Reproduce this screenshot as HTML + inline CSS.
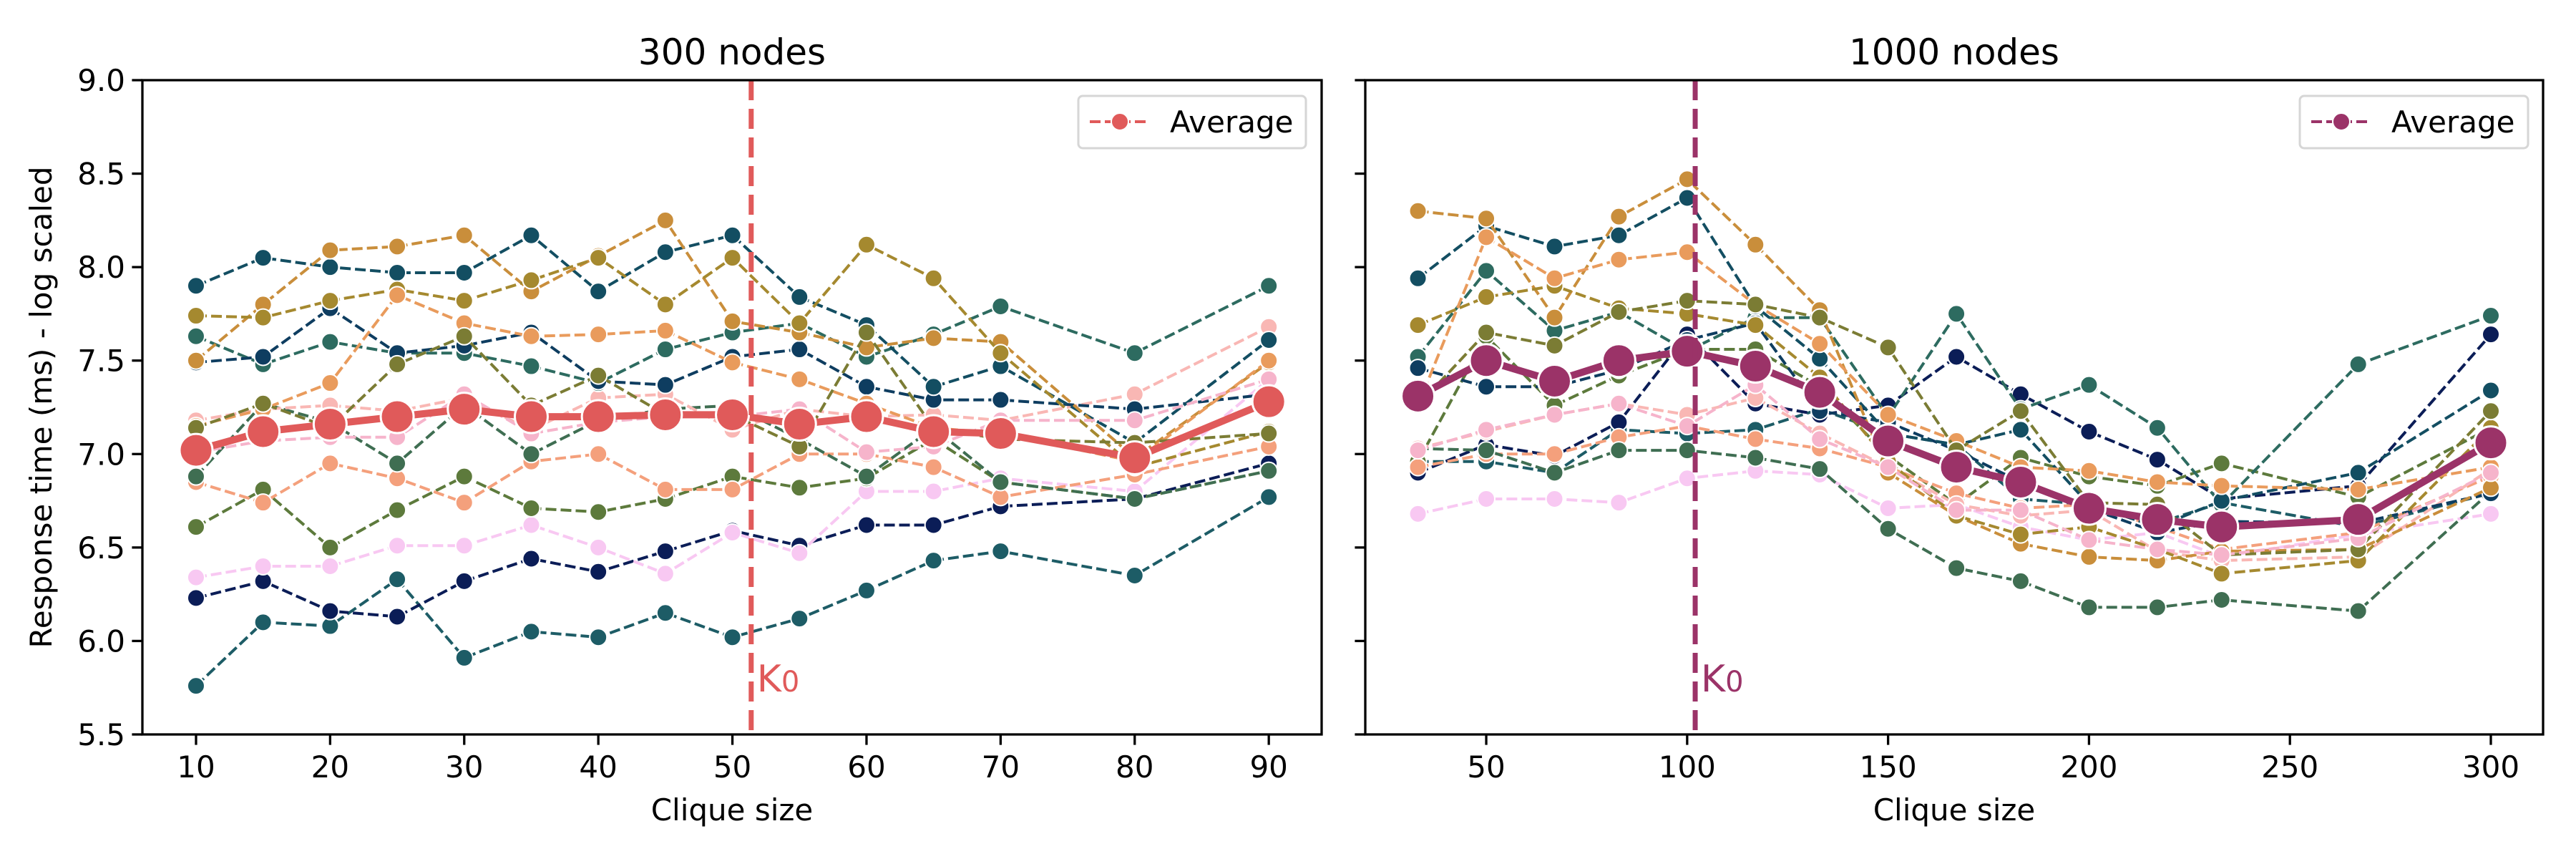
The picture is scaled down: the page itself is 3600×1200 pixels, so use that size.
<!DOCTYPE html>
<html><head><meta charset="utf-8"><style>
html,body{margin:0;padding:0;background:#fff;}
svg{display:block;font-family:"DejaVu Sans","Liberation Sans",sans-serif;}
</style></head><body>
<svg id="chart" width="3600" height="1200" viewBox="0 0 3600 1200" xmlns="http://www.w3.org/2000/svg"></svg>
<script>
const colors = ["#1d5c66","#0b1d57","#f8c8f2","#5d7a3c","#f4a07c","#3f6e52","#f9b7b4","#2d6b60","#0e3d60","#134e62","#c98e3b","#a5892f","#e99b5c","#7b7c34","#f6b4cb"];
const xsLeft = [10,15,20,25,30,35,40,45,50,55,60,65,70,80,90];
const xsRight = [33,50,67,83,100,117,133,150,167,183,200,217,233,267,300];
const leftSeries = [
 [5.76,6.10,6.08,6.33,5.91,6.05,6.02,6.15,6.02,6.12,6.27,6.43,6.48,6.35,6.77],
 [6.23,6.32,6.16,6.13,6.32,6.44,6.37,6.48,6.59,6.51,6.62,6.62,6.72,6.76,6.95],
 [6.34,6.40,6.40,6.51,6.51,6.62,6.50,6.36,6.58,6.47,6.80,6.80,6.87,6.80,7.40],
 [6.61,6.81,6.50,6.70,6.88,6.71,6.69,6.76,6.88,6.82,6.87,7.08,6.85,6.76,6.91],
 [6.85,6.74,6.95,6.87,6.74,6.96,7.00,6.81,6.81,7.00,7.00,6.93,6.77,6.89,7.04],
 [6.88,7.27,7.17,6.95,7.26,7.00,7.18,7.24,7.26,7.08,6.88,7.14,6.85,6.76,6.91],
 [7.18,7.24,7.26,7.23,7.30,7.13,7.30,7.32,7.13,7.24,7.20,7.21,7.18,7.32,7.68],
 [7.63,7.48,7.60,7.54,7.54,7.47,7.38,7.56,7.65,7.70,7.52,7.64,7.79,7.54,7.90],
 [7.49,7.52,7.78,7.54,7.58,7.65,7.39,7.37,7.52,7.56,7.36,7.29,7.29,7.24,7.32],
 [7.90,8.05,8.00,7.97,7.97,8.17,7.87,8.08,8.17,7.84,7.69,7.36,7.47,7.06,7.61],
 [7.50,7.80,8.09,8.11,8.17,7.87,8.06,8.25,7.71,7.65,7.57,7.62,7.60,6.98,7.49],
 [7.74,7.73,7.82,7.88,7.82,7.93,8.05,7.80,8.05,7.70,8.12,7.94,7.54,6.93,7.12],
 [7.15,7.24,7.38,7.85,7.70,7.63,7.64,7.66,7.49,7.40,7.27,7.14,7.11,6.96,7.50],
 [7.14,7.27,7.14,7.48,7.63,7.26,7.42,7.21,7.21,7.04,7.65,7.14,7.08,7.06,7.11],
 [7.01,7.07,7.09,7.09,7.32,7.11,7.17,7.20,7.20,7.24,7.01,7.04,7.18,7.18,7.40]
];
const leftAvg = [7.02,7.12,7.16,7.20,7.24,7.20,7.20,7.21,7.21,7.16,7.20,7.12,7.11,6.98,7.28];
const rightSeries = [
 [6.96,6.96,6.90,7.13,7.11,7.13,7.24,7.11,7.05,6.76,6.73,6.63,6.74,6.61,6.79],
 [6.90,7.05,6.99,7.17,7.64,7.27,7.21,7.26,7.52,7.32,7.12,6.97,6.76,6.83,7.64],
 [6.68,6.76,6.76,6.74,6.87,6.91,6.89,6.71,6.73,6.61,6.54,6.58,6.45,6.57,6.68],
 [6.96,7.63,7.26,7.42,7.56,7.56,7.36,6.99,6.73,6.98,6.88,6.83,6.95,6.77,7.14],
 [6.93,7.00,7.00,7.09,7.15,7.08,7.03,6.93,6.79,6.71,6.73,6.61,6.49,6.58,6.88],
 [7.03,7.02,6.90,7.02,7.02,6.98,6.92,6.60,6.39,6.32,6.18,6.18,6.22,6.16,6.80],
 [7.03,7.12,7.21,7.27,7.21,7.30,7.11,6.93,6.73,6.67,6.70,6.48,6.43,6.45,6.92],
 [7.52,7.98,7.66,7.76,7.55,7.73,7.73,7.20,7.75,7.24,7.37,7.14,6.73,7.48,7.74],
 [7.46,7.36,7.36,7.45,7.61,7.70,7.23,7.17,7.02,6.85,6.71,6.58,6.64,6.63,6.79],
 [7.94,8.22,8.11,8.17,8.37,7.79,7.51,7.11,7.05,7.13,6.73,6.61,6.75,6.90,7.34],
 [8.30,8.26,7.73,8.27,8.47,8.12,7.77,6.90,6.67,6.52,6.45,6.43,6.48,6.49,6.82],
 [7.69,7.84,7.90,7.78,7.75,7.69,7.41,6.96,6.67,6.57,6.61,6.49,6.36,6.43,7.14],
 [7.26,8.16,7.94,8.04,8.08,7.80,7.59,7.21,7.07,6.93,6.91,6.85,6.83,6.81,6.93],
 [7.26,7.65,7.58,7.76,7.82,7.80,7.73,7.57,7.02,7.23,6.74,6.73,6.46,6.49,7.23],
 [7.02,7.13,7.21,7.27,7.15,7.37,7.08,6.93,6.70,6.70,6.54,6.49,6.46,6.55,6.90]
];
const rightAvg = [7.31,7.50,7.39,7.50,7.55,7.47,7.33,7.07,6.93,6.85,6.71,6.65,6.61,6.65,7.06];
const yTicks = [5.5,6.0,6.5,7.0,7.5,8.0,8.5,9.0];
const leftXTicks = [10,20,30,40,50,60,70,80,90];
const rightXTicks = [50,100,150,200,250,300];

const NS="http://www.w3.org/2000/svg";
const svg=document.getElementById('chart');
function mk(tag,attrs,parent){const e=document.createElementNS(NS,tag);for(const k in attrs)e.setAttribute(k,attrs[k]);(parent||svg).appendChild(e);return e;}
const Y0=112,Y1=1026;
function yScale(v){return Y1-(v-5.5)/(9.0-5.5)*(Y1-Y0);}

function panel(p){
  const g=mk('g',{});
  
  
  const xs=v=>p.px0+(v-p.xmin)/(p.xmax-p.xmin)*(p.px1-p.px0);
  // series
  p.series.forEach((s,i)=>{
    const sg=mk('g',{},g);
    
    
    const pts=s.map((v,j)=>xs(p.xvals[j]).toFixed(1)+','+yScale(v).toFixed(1)).join(' ');
    mk('polyline',{points:pts,fill:'none',stroke:colors[i],'stroke-width':4,'stroke-dasharray':'15,6'},sg);
    s.forEach((v,j)=>{
      const c=mk('circle',{cx:xs(p.xvals[j]),cy:yScale(v),r:12,fill:colors[i],stroke:'#fff','stroke-width':2},sg);
      
      
    });
  });
  // average
  const ag=mk('g',{},g);
  
  
  mk('polyline',{points:p.avg.map((v,j)=>xs(p.xvals[j]).toFixed(1)+','+yScale(v).toFixed(1)).join(' '),fill:'none',stroke:p.acol,'stroke-width':10,'stroke-linejoin':'round'},ag);
  p.avg.forEach((v,j)=>{
    const c=mk('circle',{cx:xs(p.xvals[j]),cy:yScale(v),r:23,fill:p.acol,stroke:'#fff','stroke-width':3},ag);
    
    
  });
  // K0
  const kx=xs(p.k0);
  const kl=mk('line',{x1:kx,x2:kx,y1:Y0,y2:Y1,stroke:p.acol,'stroke-width':7,'stroke-dasharray':'28,12'},g);
  
  
  const kt=mk('text',{x:kx+8,y:966,fill:p.acol,'font-size':52},g);
  kt.innerHTML='K<tspan font-size="40">0</tspan>';
  
  
  // frame
  const fr=mk('rect',{x:p.px0,y:Y0,width:p.px1-p.px0,height:Y1-Y0,fill:'none',stroke:'#000','stroke-width':3.3},g);
  
  
  // y ticks
  yTicks.forEach(t=>{
    const y=yScale(t);
    mk('line',{x1:p.px0-14.6,x2:p.px0,y1:y,y2:y,stroke:'#000','stroke-width':3.3},g);
    if(p.ylabels){
      const tx=mk('text',{x:p.px0-24,y:y+15,'text-anchor':'end','font-size':42},g);
      tx.textContent=t.toFixed(1);
      
      
    }
  });
  p.xticks.forEach(t=>{
    const x=xs(t);
    mk('line',{x1:x,x2:x,y1:Y1,y2:Y1+14.6,stroke:'#000','stroke-width':3.3},g);
    const tx=mk('text',{x:x,y:1086,'text-anchor':'middle','font-size':42},g);
    tx.textContent=t;
    
    
  });
  const xt=mk('text',{x:(p.px0+p.px1)/2,y:1146,'text-anchor':'middle','font-size':42},g);
  xt.textContent='Clique size';
  
  
  const ti=mk('text',{x:(p.px0+p.px1)/2,y:90,'text-anchor':'middle','font-size':50},g);
  ti.textContent=p.title;
  
  
  // legend
  const lg=mk('g',{},g);
  
  
  mk('rect',{x:p.lx,y:134,width:p.lw,height:73,rx:6,fill:'#fff','fill-opacity':0.8,stroke:'#d6d6d6','stroke-width':3},lg);
  mk('line',{x1:p.lx+16,x2:p.lx+100,y1:170,y2:170,stroke:p.acol,'stroke-width':4,'stroke-dasharray':'15,6'},lg);
  mk('circle',{cx:p.lx+58,cy:170,r:12,fill:p.acol,stroke:'#fff','stroke-width':2},lg);
  const lt=mk('text',{x:p.lx+128,y:185,'font-size':42},lg);
  lt.textContent='Average';
  
  
}
panel({name:'panel-300-nodes',title:'300 nodes',px0:199,px1:1847,xmin:6.0,xmax:93.94,xvals:xsLeft,series:leftSeries,avg:leftAvg,acol:'#e05a5a',k0:51.4,xticks:leftXTicks,ylabels:true,lx:1507,lw:318});
panel({name:'panel-1000-nodes',title:'1000 nodes',px0:1908,px1:3554,xmin:19.9,xmax:313,xvals:xsRight,series:rightSeries,avg:rightAvg,acol:'#9b3368',k0:102,xticks:rightXTicks,ylabels:false,lx:3214,lw:319});
const yl=mk('text',{x:0,y:0,'text-anchor':'middle','font-size':42,transform:'translate(72,569) rotate(-90)'});
yl.textContent='Response time (ms) - log scaled';


</script>
</body></html>
